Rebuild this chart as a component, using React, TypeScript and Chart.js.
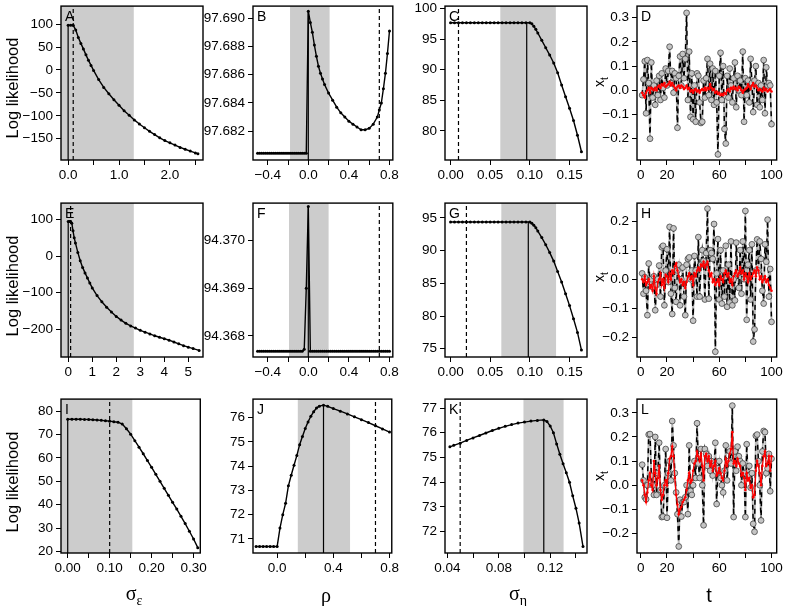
import React, { useEffect, useRef } from "react";
import { Chart, registerables } from "chart.js";
Chart.register(...registerables);

const FONT = '"Liberation Sans", Arial, Helvetica, sans-serif';
const SERIF = '"Liberation Serif", "DejaVu Serif", serif';

// ---------------- DATA ----------------
// Row 1 profiles
const A_sigmaEps = [0, 0.05, 0.1, 0.15, 0.2, 0.25, 0.3, 0.35, 0.4, 0.45, 0.5, 0.6, 0.7, 0.8, 0.9, 1.0, 1.1, 1.2, 1.3, 1.4, 1.5, 1.6, 1.7, 1.8, 1.9, 2.0, 2.1, 2.2, 2.3, 2.4, 2.5, 2.55];
const A_loglik = [97.69, 97.69, 97.69, 87, 71, 58, 46, 33, 21, 10, -1, -21, -38, -52, -65, -77, -89, -99, -109, -118, -126, -134, -141, -148, -154, -159, -164, -169, -173, -177, -181, -183];
const A_band = [-0.14, 1.29];
const A_mle = 0;
const A_true = 0.1;

const B_rho = [-0.5, -0.48, -0.46, -0.44, -0.42, -0.4, -0.38, -0.36, -0.34, -0.32, -0.3, -0.28, -0.26, -0.24, -0.22, -0.2, -0.18, -0.16, -0.14, -0.12, -0.1, -0.08, -0.06, -0.04, -0.02,
  0, 0.02, 0.04, 0.06, 0.08, 0.1, 0.12, 0.14, 0.16, 0.2, 0.24, 0.28, 0.32, 0.36, 0.4, 0.44, 0.48, 0.52, 0.56, 0.6, 0.64, 0.68, 0.7, 0.72, 0.74, 0.76, 0.78, 0.8];
const B_loglik = [97.68043, 97.68043, 97.68043, 97.68043, 97.68043, 97.68043, 97.68043, 97.68043, 97.68043, 97.68043, 97.68043, 97.68043, 97.68043, 97.68043, 97.68043, 97.68043, 97.68043, 97.68043, 97.68043, 97.68043, 97.68043, 97.68043, 97.68043, 97.68043, 97.68043,
  97.6905, 97.6897, 97.689, 97.6881, 97.6873, 97.6866, 97.6861, 97.6857, 97.6853, 97.6847, 97.6842, 97.6837, 97.6833, 97.683, 97.6827, 97.6825, 97.6823, 97.6821, 97.6821, 97.6822, 97.6825, 97.683, 97.6835, 97.684, 97.685, 97.6861, 97.6875, 97.6891];
const B_band = [-0.18, 0.21];
const B_mle = 0;
const B_true = 0.7;

const C_sigmaEta = [0, 0.005, 0.01, 0.015, 0.02, 0.025, 0.03, 0.035, 0.04, 0.045, 0.05, 0.055, 0.06, 0.065, 0.07, 0.075, 0.08, 0.085, 0.09, 0.095, 0.1,
  0.1025, 0.105, 0.1075, 0.11, 0.115, 0.12, 0.125, 0.13, 0.135, 0.14, 0.145, 0.15, 0.155, 0.16, 0.165];
const C_loglik = [97.69, 97.69, 97.69, 97.69, 97.69, 97.69, 97.69, 97.69, 97.69, 97.69, 97.69, 97.69, 97.69, 97.69, 97.69, 97.69, 97.69, 97.69, 97.69, 97.69, 97.69,
  97.5, 97.1, 96.6, 96.0, 94.8, 93.6, 92.4, 91.1, 89.5, 87.5, 85.6, 83.7, 81.7, 79.3, 76.6];
const C_band = [0.0627, 0.1327];
const C_mle = 0.096;
const C_true = 0.01;

// Row 2 profiles
const E_sigmaEps = [0, 0.05, 0.1, 0.15, 0.2, 0.25, 0.3, 0.4, 0.5, 0.6, 0.7, 0.8, 0.9, 1.0, 1.2, 1.4, 1.6, 1.8, 2.0, 2.2, 2.4, 2.6, 2.8, 3.0, 3.2, 3.4, 3.6, 3.8, 4.0, 4.2, 4.4, 4.6, 4.8, 5.0, 5.2, 5.45];
const E_loglik = [94.37, 94.37, 94.37, 90, 69, 50, 36, 10, -13, -31, -46, -60, -74, -87, -108, -125, -140, -153, -165, -175, -184, -191, -197, -203, -208, -213, -218, -222, -226, -230, -235, -240, -245, -249, -253, -258];
const E_band = [-0.3, 2.73];
const E_mle = 0;
const E_true = 0.1;

const F_rho = [-0.5, -0.48, -0.46, -0.44, -0.42, -0.4, -0.38, -0.36, -0.34, -0.32, -0.3, -0.28, -0.26, -0.24, -0.22, -0.2, -0.18, -0.16, -0.14, -0.12, -0.1, -0.08, -0.06, -0.04, -0.02, 0,
  0.02, 0.04, 0.06, 0.08, 0.1, 0.12, 0.14, 0.16, 0.18, 0.2, 0.22, 0.24, 0.26, 0.28, 0.3, 0.32, 0.34, 0.36, 0.38, 0.4, 0.42, 0.44, 0.46, 0.48, 0.5, 0.52, 0.54, 0.56, 0.58, 0.6, 0.62, 0.64, 0.66, 0.68, 0.7, 0.72, 0.74, 0.76, 0.78, 0.8];
const F_loglik = [94.36768, 94.36768, 94.36768, 94.36768, 94.36768, 94.36768, 94.36768, 94.36768, 94.36768, 94.36768, 94.36768, 94.36768, 94.36768, 94.36768, 94.36768, 94.36768, 94.36768, 94.36768, 94.36768, 94.36768, 94.36768, 94.36768, 94.36768, 94.36772, 94.369, 94.37071,
  94.36768, 94.36768, 94.36768, 94.36768, 94.36768, 94.36768, 94.36768, 94.36768, 94.36768, 94.36768, 94.36768, 94.36768, 94.36768, 94.36768, 94.36768, 94.36768, 94.36768, 94.36768, 94.36768, 94.36768, 94.36768, 94.36768, 94.36768, 94.36768, 94.36768, 94.36768, 94.36768, 94.36768, 94.36768, 94.36768, 94.36768, 94.36768, 94.36768, 94.36768, 94.36768, 94.36768, 94.36768, 94.36768, 94.36768, 94.36768];
const F_band = [-0.19, 0.2];
const F_mle = 0;
const F_true = 0.7;

const G_sigmaEta = [0, 0.005, 0.01, 0.015, 0.02, 0.025, 0.03, 0.035, 0.04, 0.045, 0.05, 0.055, 0.06, 0.065, 0.07, 0.075, 0.08, 0.085, 0.09, 0.095, 0.1,
  0.1025, 0.105, 0.1075, 0.11, 0.115, 0.12, 0.125, 0.13, 0.135, 0.14, 0.145, 0.15, 0.155, 0.16, 0.165];
const G_loglik = [94.37, 94.37, 94.37, 94.37, 94.37, 94.37, 94.37, 94.37, 94.37, 94.37, 94.37, 94.37, 94.37, 94.37, 94.37, 94.37, 94.37, 94.37, 94.37, 94.37, 94.37,
  94.2, 93.9, 93.5, 93.0, 92.0, 90.9, 89.7, 88.4, 86.8, 85.2, 83.4, 81.6, 79.6, 77.5, 74.8];
const G_band = [0.064, 0.133];
const G_mle = 0.098;
const G_true = 0.02;

// Row 3 profiles
const I_sigmaEps = [0, 0.01, 0.02, 0.03, 0.04, 0.05, 0.06, 0.07, 0.08, 0.09, 0.1, 0.11, 0.12, 0.13, 0.14, 0.15, 0.16, 0.17, 0.18, 0.19, 0.2, 0.21, 0.22, 0.23, 0.24, 0.25, 0.26, 0.27, 0.28, 0.29, 0.3, 0.31];
const I_loglik = [76.6, 76.6, 76.58, 76.55, 76.5, 76.45, 76.35, 76.25, 76.1, 75.95, 75.75, 75.5, 75.3, 74.5, 72.5, 70.2, 67.4, 64.6, 61.8, 58.9, 56.0, 53.0, 50.0, 47.0, 44.0, 41.0, 38.1, 35.0, 31.9, 28.6, 25.3, 21.6];
const I_band = [-0.016, 0.154];
const I_mle = 0;
const I_true = 0.1;

const J_rho = [-0.15, -0.125, -0.1, -0.075, -0.05, -0.025, 0, 0.02, 0.04, 0.06, 0.08, 0.1, 0.12, 0.14, 0.16, 0.18, 0.2, 0.22, 0.24, 0.26, 0.28, 0.3, 0.33, 0.36, 0.4, 0.45, 0.5, 0.55, 0.6, 0.65, 0.7, 0.75, 0.8];
const J_loglik = [70.69, 70.69, 70.69, 70.69, 70.69, 70.69, 70.69, 71.45, 72.0, 72.47, 73.19, 73.63, 74.04, 74.44, 74.89, 75.23, 75.56, 75.83, 76.06, 76.25, 76.4, 76.48, 76.52, 76.47, 76.38, 76.27, 76.16, 76.04, 75.92, 75.8, 75.67, 75.54, 75.41];
const J_band = [0.147, 0.519];
const J_mle = 0.33;
const J_true = 0.7;

const K_sigmaEta = [0.042, 0.045, 0.05, 0.055, 0.06, 0.065, 0.07, 0.075, 0.08, 0.085, 0.09, 0.095, 0.1, 0.105, 0.11, 0.115, 0.1175, 0.12, 0.1225, 0.125, 0.1275, 0.13, 0.1325, 0.135, 0.1375, 0.14, 0.1425, 0.1455];
const K_loglik = [75.43, 75.49, 75.58, 75.69, 75.79, 75.89, 75.99, 76.09, 76.18, 76.26, 76.33, 76.39, 76.43, 76.47, 76.5, 76.52, 76.45, 76.27, 76.0, 75.55, 75.13, 74.75, 74.38, 74.0, 73.45, 72.95, 72.35, 71.4];
const K_band = [0.0992, 0.1304];
const K_mle = 0.115;
const K_true = 0.05;

// Time series (t = 1..100)
const timeIndex = Array.from({ length: 100 }, (_, i) => i + 1);

const D_observed = [-0.02, 0.045, 0.12, -0.095, 0.125, 0.03, -0.2, 0.115, -0.03, 0.02,
  -0.06, 0.04, -0.02, 0.06, -0.04, 0.07, 0.01, -0.03, 0.09, 0.02,
  0.08, 0.18, 0.03, 0.08, -0.01, 0.07, 0.05, -0.155, 0.06, 0.14,
  0.02, 0.15, 0.05, 0.13, 0.32, -0.04, 0.16, -0.11, 0.07, -0.12,
  0.02, -0.13, 0.07, 0.06, -0.05, -0.135, -0.13, 0.04, -0.03, 0.05,
  0.13, -0.02, 0.11, -0.04, 0.09, -0.06, 0.08, -0.05, -0.265, 0.06,
  0.155, -0.04, 0.1, -0.16, -0.22, 0.06, -0.03, 0.09, 0.02, -0.05,
  0.05, 0.115, -0.07, 0.06, 0.0, 0.04, -0.02, 0.16, -0.13, 0.05,
  -0.02, 0.04, -0.05, 0.13, 0.03, -0.09, 0.04, 0.1, -0.06, 0.03,
  -0.07, 0.02, -0.04, 0.125, -0.095, 0.095, 0.02, 0.03, 0.02, -0.14];
const D_estimated = [-0.01, -0.02, -0.03, -0.01, 0.0, 0.01, -0.01, 0.01, 0.005, 0.0,
  0.01, 0.0, 0.015, 0.02, 0.01, 0.025, 0.02, 0.03, 0.015, 0.02,
  0.025, 0.035, 0.02, 0.03, 0.02, 0.01, 0.0, 0.015, 0.02, 0.01,
  0.02, 0.015, 0.005, 0.01, 0.02, 0.005, 0.01, -0.005, 0.0, -0.01,
  0.0, 0.005, -0.005, 0.0, -0.01, 0.0, 0.005, 0.0, 0.01, 0.0,
  0.01, 0.005, 0.025, 0.01, 0.0, 0.005, -0.01, -0.005, -0.015, -0.01,
  -0.02, -0.015, -0.02, -0.01, -0.015, 0.0, 0.005, -0.005, 0.01, 0.005,
  0.015, 0.005, 0.01, 0.0, 0.015, 0.01, 0.0, -0.01, 0.0, 0.005,
  0.01, 0.025, 0.015, 0.005, 0.02, 0.03, 0.015, 0.02, 0.01, 0.0,
  0.005, 0.0, -0.005, 0.01, 0.0, 0.005, -0.005, 0.0, 0.005, -0.005];

const H_observed = [0.02, -0.05, 0.007, -0.04, -0.124, 0.054, -0.01, 0.0, -0.027, 0.01,
  -0.107, -0.02, 0.0, 0.047, -0.06, 0.11, 0.115, -0.09, 0.03, 0.103,
  -0.01, 0.18, -0.05, -0.12, 0.175, -0.03, -0.078, 0.03, 0.05, -0.09,
  0.0, 0.04, -0.06, -0.124, 0.05, 0.07, 0.075, 0.0, 0.03, -0.143,
  0.08, 0.03, -0.06, 0.145, -0.06, 0.05, 0.1, 0.063, -0.07, 0.09,
  0.243, -0.067, 0.1, 0.09, 0.07, 0.19, -0.25, 0.02, 0.138, -0.07,
  0.1, -0.084, 0.03, -0.06, 0.115, -0.095, 0.05, -0.08, 0.13, -0.09,
  0.0, -0.073, 0.126, 0.02, -0.03, 0.1, -0.05, 0.13, 0.0, 0.235,
  -0.14, 0.05, 0.1, -0.07, 0.12, -0.215, -0.173, 0.03, 0.137, 0.03,
  0.13, 0.07, -0.04, -0.084, 0.12, 0.06, 0.205, -0.06, 0.035, -0.147];
const H_estimated = [0.0, -0.01, 0.01, -0.02, -0.01, 0.0, -0.03, -0.02, -0.04, 0.01,
  -0.03, -0.05, -0.01, 0.0, 0.02, -0.02, 0.0, -0.03, 0.015, 0.01,
  -0.01, 0.02, 0.0, 0.03, 0.02, 0.045, 0.055, 0.03, 0.01, -0.01,
  0.0, -0.02, -0.01, -0.03, -0.01, 0.01, 0.02, 0.0, 0.01, -0.02,
  0.02, 0.01, 0.03, 0.04, 0.03, 0.05, 0.045, 0.06, 0.04, 0.05,
  0.06, 0.03, 0.01, 0.02, -0.01, 0.0, -0.02, -0.01, 0.0, -0.02,
  0.01, 0.0, -0.01, 0.02, 0.03, 0.01, 0.02, -0.01, 0.0, -0.02,
  0.01, 0.02, 0.03, 0.01, 0.02, 0.04, 0.02, 0.03, 0.0, 0.02,
  0.01, -0.01, 0.02, 0.0, 0.01, 0.02, 0.03, 0.01, 0.04, 0.03,
  0.0, 0.01, -0.01, 0.0, 0.01, -0.01, 0.0, -0.02, -0.03, -0.04];

const L_observed = [0.085, 0.02, -0.05, -0.058, 0.0, 0.21, 0.212, 0.04, 0.0, -0.04,
  0.2, -0.04, 0.05, 0.176, -0.02, -0.132, -0.13, 0.0, 0.15, -0.135,
  0.05, 0.1, 0.02, 0.266, 0.165, 0.05, -0.03, -0.12, -0.254, -0.06,
  -0.13, -0.07, -0.07, -0.05, 0.0, -0.12, 0.165, -0.024, -0.04, 0.0,
  0.1, 0.03, 0.257, 0.09, 0.03, 0.15, 0.0, -0.166, 0.15, 0.13,
  0.08, 0.12, 0.06, 0.1, 0.04, 0.08, 0.176, -0.078, 0.07, 0.1,
  0.03, 0.0, -0.03, 0.06, 0.165, 0.02, 0.1, 0.14, 0.09, 0.33,
  -0.132, 0.14, 0.06, 0.16, 0.12, 0.1, 0.0, 0.09, 0.05, -0.132,
  0.17, 0.04, 0.08, -0.01, 0.05, -0.16, -0.193, 0.205, 0.21, 0.1,
  0.0, -0.146, 0.14, 0.225, 0.22, 0.05, 0.07, 0.13, -0.025, 0.11];
const L_estimated = [0.02, 0.0, -0.04, -0.07, -0.03, 0.02, 0.05, 0.0, -0.02, 0.1,
  0.05, 0.0, 0.03, 0.08, -0.02, -0.06, -0.04, 0.0, 0.02, 0.0,
  0.05, 0.11, 0.12, 0.16, 0.12, 0.03, -0.04, -0.08, -0.12, -0.1,
  -0.09, -0.07, -0.06, -0.05, -0.02, 0.02, 0.05, 0.01, 0.02, 0.06,
  0.09, 0.1, 0.14, 0.12, 0.1, 0.13, 0.08, 0.02, 0.12, 0.13,
  0.1, 0.12, 0.08, 0.1, 0.06, 0.08, 0.1, 0.04, 0.05, 0.07,
  0.05, 0.03, 0.02, 0.06, 0.11, 0.08, 0.1, 0.13, 0.15, 0.22,
  0.09, 0.1, 0.08, 0.11, 0.09, 0.08, 0.04, 0.05, 0.03, -0.02,
  0.05, 0.02, 0.03, -0.01, 0.0, -0.05, -0.04, 0.06, 0.1, 0.08,
  0.05, 0.0, 0.08, 0.12, 0.14, 0.08, 0.09, 0.12, 0.06, 0.12];

// Tick values and labels
const tsTicks = [0, 20, 40, 60, 80, 100];
const tsTickLabels = ["0", "20", "", "60", "", "100"];
const rhoTicks = [-0.4, -0.2, 0, 0.2, 0.4, 0.6, 0.8];
const rhoTickLabels = ["\u22120.4", "", "0.0", "", "0.4", "", "0.8"];
const etaTicks = [0, 0.05, 0.1, 0.15];
const etaTickLabels = ["0.00", "0.05", "0.10", "0.15"];

// ---------------- LAYOUT ----------------
const YW = 62, PT = 8, PR = 6, XH = 30, PW = 142, PH = 157;
const COLS = [61, 253, 445, 637];
const ROWS = [3, 200, 396];

type PanelDef = {
  letter: string; col: number; row: number;
  xlim: [number, number]; ylim: [number, number];
  xticks: number[]; xlabels: string[]; yticks: number[]; ylabels: string[];
  profile?: { xs: number[]; ys: number[]; band: number[]; mle: number; truth: number };
  series?: { obs: number[]; est: number[] };
};

const panels: PanelDef[] = [
  { letter: "A", col: 0, row: 0, xlim: [-0.14, 2.65], ylim: [-196.5, 139.4],
    xticks: [0, 0.5, 1, 1.5, 2, 2.5], xlabels: ["0.0", "", "1.0", "", "2.0", ""],
    yticks: [-150, -100, -50, 0, 50, 100], ylabels: ["\u2212150", "\u2212100", "\u221250", "0", "50", "100"],
    profile: { xs: A_sigmaEps, ys: A_loglik, band: A_band, mle: A_mle, truth: A_true } },
  { letter: "B", col: 1, row: 0, xlim: [-0.545, 0.833], ylim: [97.67996, 97.69086],
    xticks: rhoTicks, xlabels: rhoTickLabels,
    yticks: [97.682, 97.684, 97.686, 97.688, 97.69], ylabels: ["97.682", "97.684", "97.686", "97.688", "97.690"],
    profile: { xs: B_rho, ys: B_loglik, band: B_band, mle: B_mle, truth: B_true } },
  { letter: "C", col: 2, row: 0, xlim: [-0.007, 0.172], ylim: [75.25, 100.4],
    xticks: etaTicks, xlabels: etaTickLabels,
    yticks: [80, 85, 90, 95, 100], ylabels: ["80", "85", "90", "95", "100"],
    profile: { xs: C_sigmaEta, ys: C_loglik, band: C_band, mle: C_mle, truth: C_true } },
  { letter: "D", col: 3, row: 0, xlim: [-2.96, 103.96], ylim: [-0.288, 0.348],
    xticks: tsTicks, xlabels: tsTickLabels,
    yticks: [-0.2, -0.1, 0, 0.1, 0.2, 0.3], ylabels: ["\u22120.2", "\u22120.1", "0.0", "0.1", "0.2", "0.3"],
    series: { obs: D_observed, est: D_estimated } },
  { letter: "E", col: 0, row: 1, xlim: [-0.3, 5.61], ylim: [-276, 144.8],
    xticks: [0, 1, 2, 3, 4, 5], xlabels: ["0", "1", "2", "3", "4", "5"],
    yticks: [-200, -100, 0, 100], ylabels: ["\u2212200", "\u2212100", "0", "100"],
    profile: { xs: E_sigmaEps, ys: E_loglik, band: E_band, mle: E_mle, truth: E_true } },
  { letter: "F", col: 1, row: 1, xlim: [-0.545, 0.833], ylim: [94.36756, 94.37078],
    xticks: rhoTicks, xlabels: rhoTickLabels,
    yticks: [94.368, 94.369, 94.37], ylabels: ["94.368", "94.369", "94.370"],
    profile: { xs: F_rho, ys: F_loglik, band: F_band, mle: F_mle, truth: F_true } },
  { letter: "G", col: 2, row: 1, xlim: [-0.007, 0.172], ylim: [73.74, 97.27],
    xticks: etaTicks, xlabels: etaTickLabels,
    yticks: [75, 80, 85, 90, 95], ylabels: ["75", "80", "85", "90", "95"],
    profile: { xs: G_sigmaEta, ys: G_loglik, band: G_band, mle: G_mle, truth: G_true } },
  { letter: "H", col: 3, row: 1, xlim: [-2.96, 103.96], ylim: [-0.268, 0.262],
    xticks: tsTicks, xlabels: tsTickLabels,
    yticks: [-0.2, -0.1, 0, 0.1, 0.2], ylabels: ["\u22120.2", "\u22120.1", "0.0", "0.1", "0.2"],
    series: { obs: H_observed, est: H_estimated } },
  { letter: "I", col: 0, row: 2, xlim: [-0.016, 0.316], ylim: [19.3, 85.2],
    xticks: [0, 0.05, 0.1, 0.15, 0.2, 0.25, 0.3], xlabels: ["0.00", "", "0.10", "", "0.20", "", "0.30"],
    yticks: [20, 30, 40, 50, 60, 70, 80], ylabels: ["20", "30", "40", "50", "60", "70", "80"],
    profile: { xs: I_sigmaEps, ys: I_loglik, band: I_band, mle: I_mle, truth: I_true } },
  { letter: "J", col: 1, row: 2, xlim: [-0.172, 0.816], ylim: [70.42, 76.77],
    xticks: [0, 0.2, 0.4, 0.6, 0.8], xlabels: ["0.0", "", "0.4", "", "0.8"],
    yticks: [71, 72, 73, 74, 75, 76], ylabels: ["71", "72", "73", "74", "75", "76"],
    profile: { xs: J_rho, ys: J_loglik, band: J_band, mle: J_mle, truth: J_true } },
  { letter: "K", col: 2, row: 2, xlim: [0.0382, 0.1486], ylim: [71.14, 77.36],
    xticks: [0.04, 0.06, 0.08, 0.1, 0.12, 0.14], xlabels: ["0.04", "", "0.08", "", "0.12", ""],
    yticks: [72, 73, 74, 75, 76, 77], ylabels: ["72", "73", "74", "75", "76", "77"],
    profile: { xs: K_sigmaEta, ys: K_loglik, band: K_band, mle: K_mle, truth: K_true } },
  { letter: "L", col: 3, row: 2, xlim: [-2.96, 103.96], ylim: [-0.281, 0.357],
    xticks: tsTicks, xlabels: tsTickLabels,
    yticks: [-0.2, -0.1, 0, 0.1, 0.2, 0.3], ylabels: ["\u22120.2", "\u22120.1", "0.0", "0.1", "0.2", "0.3"],
    series: { obs: L_observed, est: L_estimated } },
];

function Panel({ p }: { p: PanelDef }) {
  const ref = useRef<HTMLCanvasElement>(null);
  const W = YW + PW + PR;
  const H = PT + PH + XH;
  useEffect(() => {
    const datasets: any[] = [];
    if (p.profile) {
      const pr = p.profile;
      const peak = Math.max(...pr.ys);
      datasets.push({
        data: pr.xs.map((x, i) => ({ x, y: pr.ys[i] })),
        borderColor: "#000", borderWidth: 1.4, pointRadius: 1.5, pointBackgroundColor: "#000",
        pointBorderWidth: 0, tension: 0, order: 1,
      });
      datasets.push({
        data: [{ x: pr.mle, y: p.ylim[0] }, { x: pr.mle, y: peak }],
        borderColor: "#000", borderWidth: 1.2, pointRadius: 0, order: 2,
      });
      datasets.push({
        data: [{ x: pr.truth, y: p.ylim[0] }, { x: pr.truth, y: p.ylim[1] }],
        borderColor: "#000", borderWidth: 1.2, borderDash: [4, 3], pointRadius: 0, order: 3,
      });
    }
    if (p.series) {
      const s = p.series;
      datasets.push({
        data: timeIndex.map((t, i) => ({ x: t, y: s.est[i] })),
        borderColor: "#ff0000", borderWidth: 1.3, pointRadius: 1.3, pointBackgroundColor: "#ff0000",
        pointBorderWidth: 0, order: 0,
      });
      datasets.push({
        data: timeIndex.map((t, i) => ({ x: t, y: s.obs[i] })),
        borderColor: "#000", borderWidth: 1.5, borderDash: [5, 4], pointRadius: 2.9,
        pointBackgroundColor: "#c4c4c4", pointBorderColor: "#444444", pointBorderWidth: 0.8, order: 1,
      });
      datasets.push({
        data: timeIndex.map((t, i) => ({ x: t, y: s.obs[i] })),
        borderColor: "#b8b8b8", borderWidth: 1.8, pointRadius: 0, order: 2,
      });
    }
    const deco = {
      id: "deco",
      beforeDatasetsDraw(chart: any) {
        if (!p.profile) return;
        const { ctx, chartArea: a, scales } = chart;
        const x0 = Math.max(a.left, scales.x.getPixelForValue(p.profile.band[0]));
        const x1 = Math.min(a.right, scales.x.getPixelForValue(p.profile.band[1]));
        ctx.save();
        ctx.fillStyle = "#cccccc";
        ctx.fillRect(x0, a.top, x1 - x0, a.bottom - a.top);
        ctx.restore();
      },
      afterDraw(chart: any) {
        const { ctx, chartArea: a } = chart;
        ctx.save();
        ctx.strokeStyle = "#000";
        ctx.lineWidth = 1.4;
        ctx.strokeRect(a.left, a.top, a.right - a.left, a.bottom - a.top);
        ctx.fillStyle = "#000";
        ctx.font = `14px ${FONT}`;
        ctx.textBaseline = "top";
        ctx.textAlign = "left";
        ctx.fillText(p.letter, a.left + 4, a.top + 4);
        ctx.restore();
      },
    };
    const tickFont = { family: FONT, size: 13.5 };
    const chart = new Chart(ref.current!, {
      type: "line",
      data: { datasets },
      options: {
        animation: false,
        responsive: false,
        events: [],
        layout: { padding: { left: 0, right: PR, top: PT, bottom: 0 } },
        plugins: { legend: { display: false }, tooltip: { enabled: false } },
        scales: {
          x: {
            type: "linear", min: p.xlim[0], max: p.xlim[1],
            afterBuildTicks: (ax: any) => { ax.ticks = p.xticks.map((v) => ({ value: v })); },
            afterFit: (ax: any) => { ax.height = XH; },
            ticks: { autoSkip: false, maxRotation: 0, minRotation: 0, padding: 2, color: "#000", font: tickFont,
              callback: (_v: any, i: number) => p.xlabels[i] },
            grid: { drawOnChartArea: false, drawTicks: true, tickLength: 5, color: "#000", lineWidth: 1 },
            border: { display: false },
          },
          y: {
            type: "linear", min: p.ylim[0], max: p.ylim[1],
            afterBuildTicks: (ax: any) => { ax.ticks = p.yticks.map((v) => ({ value: v })); },
            afterFit: (ax: any) => { ax.width = YW; },
            ticks: { autoSkip: false, padding: 3, color: "#000", font: tickFont,
              callback: (_v: any, i: number) => p.ylabels[i] },
            grid: { drawOnChartArea: false, drawTicks: true, tickLength: 5, color: "#000", lineWidth: 1 },
            border: { display: false },
          },
        },
      } as any,
      plugins: [deco],
    });
    return () => chart.destroy();
  }, []);
  return (
    <canvas
      ref={ref}
      width={W}
      height={H}
      style={{ position: "absolute", left: COLS[p.col] - YW, top: ROWS[p.row] - PT, width: W, height: H }}
    />
  );
}

const rotLabel = (left: number, top: number, size: number): React.CSSProperties => ({
  position: "absolute", left, top, transform: "translate(-50%, -50%) rotate(-90deg)",
  whiteSpace: "nowrap", fontFamily: FONT, fontSize: size, color: "#000", lineHeight: 1,
});

const bottomLabel = (left: number, family: string): React.CSSProperties => ({
  position: "absolute", left, top: 595, transform: "translate(-50%, -50%)",
  whiteSpace: "nowrap", fontFamily: family, fontSize: 20, color: "#000", lineHeight: 1,
});

export default function App() {
  return (
    <div style={{ position: "absolute", left: 0, top: 0, width: 787, height: 606, background: "#fff", overflow: "hidden" }}>
      {panels.map((p) => <Panel key={p.letter} p={p} />)}
      <div style={rotLabel(12, 88, 16.5)}>Log likelihood</div>
      <div style={rotLabel(12, 286, 16.5)}>Log likelihood</div>
      <div style={rotLabel(12, 482, 16.5)}>Log likelihood</div>
      <div style={rotLabel(601, 82, 14)}>x<sub style={{ fontSize: 10 }}>t</sub></div>
      <div style={rotLabel(601, 277, 14)}>x<sub style={{ fontSize: 10 }}>t</sub></div>
      <div style={rotLabel(601, 476, 14)}>x<sub style={{ fontSize: 10 }}>t</sub></div>
      <div style={bottomLabel(134, SERIF)}>σ<sub style={{ fontSize: 14 }}>ε</sub></div>
      <div style={bottomLabel(326, SERIF)}>ρ</div>
      <div style={bottomLabel(518, SERIF)}>σ<sub style={{ fontSize: 14 }}>η</sub></div>
      <div style={bottomLabel(709, FONT)}>t</div>
    </div>
  );
}
